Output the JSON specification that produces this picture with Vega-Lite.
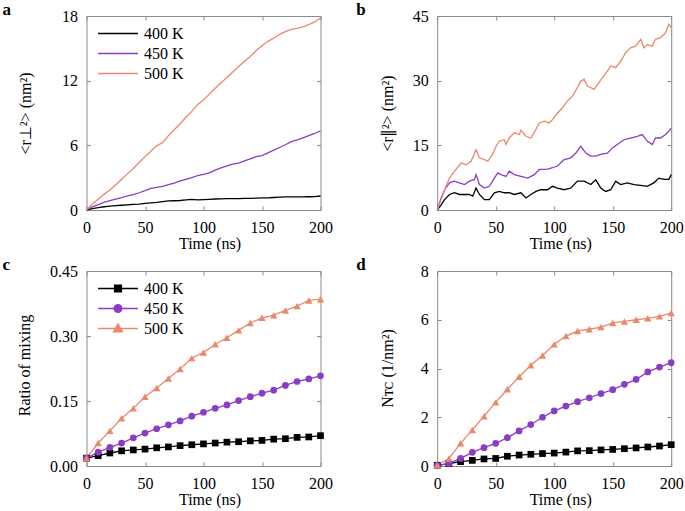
{
"$schema": "https://vega.github.io/schema/vega-lite/v6.json",
"background": "white",
"padding": {"left": 1.5, "top": 0, "right": 4, "bottom": 4},
"config": {
  "font": "Liberation Serif",
  "view": {"stroke": "#8a8a8a", "strokeWidth": 1},
  "axis": {"labelFont": "Liberation Serif", "labelFontSize": 16, "labelColor": "#000", "titleFont": "Liberation Serif", "titleFontSize": 16, "titleFontWeight": "normal", "titleColor": "#000", "grid": false, "domain": false, "tickColor": "#8a8a8a", "tickSize": -4, "labelPadding": 13, "labelFlush": false, "labelOverlap": false},
  "legend": {"labelFont": "Liberation Serif", "labelFontSize": 16, "labelColor": "#000"},
  "title": {"font": "Liberation Serif", "fontSize": 17, "fontWeight": "bold", "anchor": "start", "frame": "group", "color": "#000"}
},
"datasets": {
"a": [
{"T":"400 K","t":0,"v":0},{"T":"400 K","t":5,"v":0.12},{"T":"400 K","t":10,"v":0.22},{"T":"400 K","t":15,"v":0.3},{"T":"400 K","t":20,"v":0.36},{"T":"400 K","t":25,"v":0.4},{"T":"400 K","t":30,"v":0.44},{"T":"400 K","t":35,"v":0.48},{"T":"400 K","t":40,"v":0.52},{"T":"400 K","t":45,"v":0.55},{"T":"400 K","t":50,"v":0.62},{"T":"400 K","t":55,"v":0.66},{"T":"400 K","t":60,"v":0.7},{"T":"400 K","t":65,"v":0.78},{"T":"400 K","t":70,"v":0.84},{"T":"400 K","t":75,"v":0.86},{"T":"400 K","t":80,"v":0.88},{"T":"400 K","t":85,"v":0.93},{"T":"400 K","t":90,"v":0.98},{"T":"400 K","t":95,"v":0.94},{"T":"400 K","t":100,"v":0.96},{"T":"400 K","t":105,"v":0.99},{"T":"400 K","t":110,"v":1.02},{"T":"400 K","t":115,"v":1.04},{"T":"400 K","t":120,"v":1.05},{"T":"400 K","t":125,"v":1.06},{"T":"400 K","t":130,"v":1.06},{"T":"400 K","t":135,"v":1.08},{"T":"400 K","t":140,"v":1.08},{"T":"400 K","t":145,"v":1.1},{"T":"400 K","t":150,"v":1.12},{"T":"400 K","t":155,"v":1.13},{"T":"400 K","t":160,"v":1.16},{"T":"400 K","t":165,"v":1.2},{"T":"400 K","t":170,"v":1.22},{"T":"400 K","t":175,"v":1.21},{"T":"400 K","t":180,"v":1.22},{"T":"400 K","t":185,"v":1.22},{"T":"400 K","t":190,"v":1.23},{"T":"400 K","t":195,"v":1.24},{"T":"400 K","t":200,"v":1.3},
{"T":"450 K","t":0,"v":0},{"T":"450 K","t":5,"v":0.3},{"T":"450 K","t":10,"v":0.5},{"T":"450 K","t":15,"v":0.7},{"T":"450 K","t":20,"v":0.88},{"T":"450 K","t":25,"v":1.02},{"T":"450 K","t":30,"v":1.15},{"T":"450 K","t":35,"v":1.3},{"T":"450 K","t":40,"v":1.42},{"T":"450 K","t":45,"v":1.6},{"T":"450 K","t":50,"v":1.8},{"T":"450 K","t":55,"v":2.0},{"T":"450 K","t":60,"v":2.1},{"T":"450 K","t":65,"v":2.2},{"T":"450 K","t":70,"v":2.35},{"T":"450 K","t":75,"v":2.5},{"T":"450 K","t":80,"v":2.7},{"T":"450 K","t":85,"v":2.85},{"T":"450 K","t":90,"v":3.0},{"T":"450 K","t":95,"v":3.2},{"T":"450 K","t":100,"v":3.3},{"T":"450 K","t":105,"v":3.45},{"T":"450 K","t":110,"v":3.7},{"T":"450 K","t":115,"v":3.9},{"T":"450 K","t":120,"v":4.1},{"T":"450 K","t":125,"v":4.25},{"T":"450 K","t":130,"v":4.35},{"T":"450 K","t":135,"v":4.55},{"T":"450 K","t":140,"v":4.75},{"T":"450 K","t":145,"v":4.95},{"T":"450 K","t":150,"v":5.05},{"T":"450 K","t":155,"v":5.3},{"T":"450 K","t":160,"v":5.55},{"T":"450 K","t":165,"v":5.8},{"T":"450 K","t":170,"v":6.05},{"T":"450 K","t":175,"v":6.35},{"T":"450 K","t":180,"v":6.5},{"T":"450 K","t":185,"v":6.7},{"T":"450 K","t":190,"v":6.9},{"T":"450 K","t":195,"v":7.1},{"T":"450 K","t":200,"v":7.35},
{"T":"500 K","t":0,"v":0},{"T":"500 K","t":5,"v":0.55},{"T":"500 K","t":10,"v":1.0},{"T":"500 K","t":15,"v":1.45},{"T":"500 K","t":20,"v":1.85},{"T":"500 K","t":25,"v":2.35},{"T":"500 K","t":30,"v":2.85},{"T":"500 K","t":35,"v":3.35},{"T":"500 K","t":40,"v":3.85},{"T":"500 K","t":45,"v":4.4},{"T":"500 K","t":50,"v":4.95},{"T":"500 K","t":55,"v":5.45},{"T":"500 K","t":60,"v":5.95},{"T":"500 K","t":65,"v":6.25},{"T":"500 K","t":70,"v":6.9},{"T":"500 K","t":75,"v":7.45},{"T":"500 K","t":80,"v":8.0},{"T":"500 K","t":85,"v":8.6},{"T":"500 K","t":90,"v":9.15},{"T":"500 K","t":95,"v":9.8},{"T":"500 K","t":100,"v":10.2},{"T":"500 K","t":105,"v":10.75},{"T":"500 K","t":110,"v":11.3},{"T":"500 K","t":115,"v":11.8},{"T":"500 K","t":120,"v":12.3},{"T":"500 K","t":125,"v":12.8},{"T":"500 K","t":130,"v":13.3},{"T":"500 K","t":135,"v":13.8},{"T":"500 K","t":140,"v":14.25},{"T":"500 K","t":145,"v":14.8},{"T":"500 K","t":150,"v":15.25},{"T":"500 K","t":155,"v":15.65},{"T":"500 K","t":160,"v":15.95},{"T":"500 K","t":165,"v":16.3},{"T":"500 K","t":170,"v":16.55},{"T":"500 K","t":175,"v":16.75},{"T":"500 K","t":180,"v":16.85},{"T":"500 K","t":185,"v":17.0},{"T":"500 K","t":190,"v":17.2},{"T":"500 K","t":195,"v":17.45},{"T":"500 K","t":200,"v":17.8}
],
"b": [
{"T":"400 K","t":0,"v":0},{"T":"400 K","t":3.4,"v":1.2},{"T":"400 K","t":6.3,"v":2.4},{"T":"400 K","t":10.5,"v":3.6},{"T":"400 K","t":14.8,"v":4.0},{"T":"400 K","t":19,"v":3.6},{"T":"400 K","t":23.3,"v":3.6},{"T":"400 K","t":27.6,"v":3.6},{"T":"400 K","t":30.4,"v":3.2},{"T":"400 K","t":33.2,"v":5.1},{"T":"400 K","t":36.1,"v":3.6},{"T":"400 K","t":40.3,"v":2.4},{"T":"400 K","t":44.6,"v":2.4},{"T":"400 K","t":48.9,"v":4.0},{"T":"400 K","t":53.1,"v":4.3},{"T":"400 K","t":57.4,"v":4.0},{"T":"400 K","t":61.6,"v":4.0},{"T":"400 K","t":65.9,"v":3.6},{"T":"400 K","t":71.6,"v":4.0},{"T":"400 K","t":75.9,"v":2.8},{"T":"400 K","t":80.1,"v":3.6},{"T":"400 K","t":84.4,"v":4.3},{"T":"400 K","t":88.6,"v":4.7},{"T":"400 K","t":94.3,"v":4.7},{"T":"400 K","t":98.6,"v":5.5},{"T":"400 K","t":102.8,"v":5.1},{"T":"400 K","t":108.5,"v":4.7},{"T":"400 K","t":114.2,"v":5.1},{"T":"400 K","t":119.9,"v":6.7},{"T":"400 K","t":125.6,"v":6.7},{"T":"400 K","t":131.3,"v":5.9},{"T":"400 K","t":135.5,"v":7.0},{"T":"400 K","t":139.8,"v":5.1},{"T":"400 K","t":144,"v":4.3},{"T":"400 K","t":148.3,"v":4.7},{"T":"400 K","t":152.6,"v":6.7},{"T":"400 K","t":156.8,"v":5.9},{"T":"400 K","t":162.5,"v":6.3},{"T":"400 K","t":168.2,"v":5.9},{"T":"400 K","t":173.9,"v":5.7},{"T":"400 K","t":179.5,"v":5.5},{"T":"400 K","t":185.2,"v":6.3},{"T":"400 K","t":189.5,"v":7.4},{"T":"400 K","t":193.8,"v":7.1},{"T":"400 K","t":198,"v":7.1},{"T":"400 K","t":200,"v":8.2},
{"T":"450 K","t":0,"v":0},{"T":"450 K","t":3.4,"v":2.8},{"T":"450 K","t":6.3,"v":4.7},{"T":"450 K","t":10.5,"v":6.3},{"T":"450 K","t":14.8,"v":6.7},{"T":"450 K","t":19,"v":6.3},{"T":"450 K","t":23.3,"v":5.9},{"T":"450 K","t":27.6,"v":6.7},{"T":"450 K","t":31.8,"v":7.1},{"T":"450 K","t":33.2,"v":8.2},{"T":"450 K","t":36.1,"v":5.9},{"T":"450 K","t":40.3,"v":5.1},{"T":"450 K","t":44.6,"v":5.5},{"T":"450 K","t":48.9,"v":7.4},{"T":"450 K","t":51.7,"v":8.6},{"T":"450 K","t":54.5,"v":8.2},{"T":"450 K","t":58.8,"v":7.8},{"T":"450 K","t":61.6,"v":9.0},{"T":"450 K","t":65.9,"v":8.2},{"T":"450 K","t":71.6,"v":7.8},{"T":"450 K","t":77.3,"v":7.4},{"T":"450 K","t":83,"v":8.2},{"T":"450 K","t":87.2,"v":9.4},{"T":"450 K","t":94.3,"v":9.5},{"T":"450 K","t":98.6,"v":9.8},{"T":"450 K","t":102.8,"v":10.2},{"T":"450 K","t":108.5,"v":11.7},{"T":"450 K","t":114.2,"v":12.1},{"T":"450 K","t":118.5,"v":13.2},{"T":"450 K","t":122.7,"v":14.8},{"T":"450 K","t":127,"v":13.2},{"T":"450 K","t":131.3,"v":12.5},{"T":"450 K","t":135.5,"v":12.5},{"T":"450 K","t":139.8,"v":12.9},{"T":"450 K","t":145.5,"v":13.2},{"T":"450 K","t":149.7,"v":14.4},{"T":"450 K","t":154,"v":15.2},{"T":"450 K","t":159.7,"v":16.3},{"T":"450 K","t":165.3,"v":16.7},{"T":"450 K","t":171,"v":17.1},{"T":"450 K","t":175.3,"v":17.5},{"T":"450 K","t":179.5,"v":16.0},{"T":"450 K","t":183.8,"v":15.2},{"T":"450 K","t":186.6,"v":16.7},{"T":"450 K","t":190.9,"v":16.7},{"T":"450 K","t":195.2,"v":17.5},{"T":"450 K","t":198,"v":18.3},{"T":"450 K","t":200,"v":19.0},
{"T":"500 K","t":0,"v":0},{"T":"500 K","t":3.4,"v":2.4},{"T":"500 K","t":6.3,"v":4.7},{"T":"500 K","t":10.5,"v":7.4},{"T":"500 K","t":14.8,"v":9.0},{"T":"500 K","t":20.5,"v":10.9},{"T":"500 K","t":24.7,"v":10.5},{"T":"500 K","t":29,"v":11.3},{"T":"500 K","t":33.2,"v":14.0},{"T":"500 K","t":36.1,"v":12.1},{"T":"500 K","t":40.3,"v":11.7},{"T":"500 K","t":43.2,"v":11.3},{"T":"500 K","t":47.4,"v":12.9},{"T":"500 K","t":50.3,"v":14.8},{"T":"500 K","t":53.1,"v":16.0},{"T":"500 K","t":57.4,"v":16.3},{"T":"500 K","t":58.8,"v":15.2},{"T":"500 K","t":61.6,"v":16.7},{"T":"500 K","t":65.9,"v":17.9},{"T":"500 K","t":70.2,"v":17.5},{"T":"500 K","t":71.6,"v":18.5},{"T":"500 K","t":75.9,"v":17.1},{"T":"500 K","t":80.1,"v":16.7},{"T":"500 K","t":84.4,"v":18.7},{"T":"500 K","t":87.2,"v":20.2},{"T":"500 K","t":91.5,"v":20.6},{"T":"500 K","t":95.7,"v":20.2},{"T":"500 K","t":98.6,"v":21.0},{"T":"500 K","t":102.8,"v":22.5},{"T":"500 K","t":107.1,"v":23.7},{"T":"500 K","t":111.4,"v":25.3},{"T":"500 K","t":115.6,"v":26.4},{"T":"500 K","t":119.9,"v":28.4},{"T":"500 K","t":122.7,"v":29.9},{"T":"500 K","t":125.6,"v":30.3},{"T":"500 K","t":128.4,"v":28.7},{"T":"500 K","t":131.3,"v":28.4},{"T":"500 K","t":134.1,"v":28.0},{"T":"500 K","t":137,"v":29.1},{"T":"500 K","t":141.2,"v":30.7},{"T":"500 K","t":145.5,"v":32.2},{"T":"500 K","t":148.3,"v":33.4},{"T":"500 K","t":152.6,"v":33.0},{"T":"500 K","t":156.8,"v":34.5},{"T":"500 K","t":161.1,"v":36.5},{"T":"500 K","t":165.3,"v":37.6},{"T":"500 K","t":169.6,"v":38.0},{"T":"500 K","t":173.9,"v":39.6},{"T":"500 K","t":176.7,"v":37.6},{"T":"500 K","t":179.5,"v":38.4},{"T":"500 K","t":183.8,"v":38.0},{"T":"500 K","t":186.6,"v":39.6},{"T":"500 K","t":190.9,"v":40.0},{"T":"500 K","t":195.2,"v":41.1},{"T":"500 K","t":198,"v":43.1},{"T":"500 K","t":200,"v":42.3}
],
"c": [
{"T":"400 K","t":0,"v":0.018},{"T":"400 K","t":10,"v":0.024},{"T":"400 K","t":20,"v":0.030},{"T":"400 K","t":30,"v":0.035},{"T":"400 K","t":40,"v":0.037},{"T":"400 K","t":50,"v":0.039},{"T":"400 K","t":60,"v":0.042},{"T":"400 K","t":70,"v":0.044},{"T":"400 K","t":80,"v":0.047},{"T":"400 K","t":90,"v":0.049},{"T":"400 K","t":100,"v":0.051},{"T":"400 K","t":110,"v":0.053},{"T":"400 K","t":120,"v":0.055},{"T":"400 K","t":130,"v":0.056},{"T":"400 K","t":140,"v":0.058},{"T":"400 K","t":150,"v":0.059},{"T":"400 K","t":160,"v":0.062},{"T":"400 K","t":170,"v":0.063},{"T":"400 K","t":180,"v":0.066},{"T":"400 K","t":190,"v":0.067},{"T":"400 K","t":200,"v":0.070},
{"T":"450 K","t":0,"v":0.018},{"T":"450 K","t":10,"v":0.032},{"T":"450 K","t":20,"v":0.043},{"T":"450 K","t":30,"v":0.053},{"T":"450 K","t":40,"v":0.065},{"T":"450 K","t":50,"v":0.076},{"T":"450 K","t":60,"v":0.086},{"T":"450 K","t":70,"v":0.095},{"T":"450 K","t":80,"v":0.104},{"T":"450 K","t":90,"v":0.115},{"T":"450 K","t":100,"v":0.124},{"T":"450 K","t":110,"v":0.133},{"T":"450 K","t":120,"v":0.141},{"T":"450 K","t":130,"v":0.151},{"T":"450 K","t":140,"v":0.160},{"T":"450 K","t":150,"v":0.168},{"T":"450 K","t":160,"v":0.175},{"T":"450 K","t":170,"v":0.186},{"T":"450 K","t":180,"v":0.195},{"T":"450 K","t":190,"v":0.201},{"T":"450 K","t":200,"v":0.208},
{"T":"500 K","t":0,"v":0.018},{"T":"500 K","t":10,"v":0.053},{"T":"500 K","t":20,"v":0.081},{"T":"500 K","t":30,"v":0.110},{"T":"500 K","t":40,"v":0.133},{"T":"500 K","t":50,"v":0.160},{"T":"500 K","t":60,"v":0.180},{"T":"500 K","t":70,"v":0.202},{"T":"500 K","t":80,"v":0.224},{"T":"500 K","t":90,"v":0.249},{"T":"500 K","t":100,"v":0.262},{"T":"500 K","t":110,"v":0.281},{"T":"500 K","t":120,"v":0.296},{"T":"500 K","t":130,"v":0.313},{"T":"500 K","t":140,"v":0.330},{"T":"500 K","t":150,"v":0.342},{"T":"500 K","t":160,"v":0.348},{"T":"500 K","t":170,"v":0.359},{"T":"500 K","t":180,"v":0.369},{"T":"500 K","t":190,"v":0.382},{"T":"500 K","t":200,"v":0.385}
],
"d": [
{"T":"400 K","t":0,"v":0.03},{"T":"400 K","t":10,"v":0.10},{"T":"400 K","t":20,"v":0.18},{"T":"400 K","t":30,"v":0.23},{"T":"400 K","t":40,"v":0.29},{"T":"400 K","t":50,"v":0.31},{"T":"400 K","t":60,"v":0.40},{"T":"400 K","t":70,"v":0.45},{"T":"400 K","t":80,"v":0.48},{"T":"400 K","t":90,"v":0.51},{"T":"400 K","t":100,"v":0.53},{"T":"400 K","t":110,"v":0.57},{"T":"400 K","t":120,"v":0.62},{"T":"400 K","t":130,"v":0.63},{"T":"400 K","t":140,"v":0.66},{"T":"400 K","t":150,"v":0.68},{"T":"400 K","t":160,"v":0.71},{"T":"400 K","t":170,"v":0.74},{"T":"400 K","t":180,"v":0.78},{"T":"400 K","t":190,"v":0.82},{"T":"400 K","t":200,"v":0.875},
{"T":"450 K","t":0,"v":0.03},{"T":"450 K","t":10,"v":0.10},{"T":"450 K","t":20,"v":0.31},{"T":"450 K","t":30,"v":0.56},{"T":"450 K","t":40,"v":0.75},{"T":"450 K","t":50,"v":0.93},{"T":"450 K","t":60,"v":1.16},{"T":"450 K","t":70,"v":1.44},{"T":"450 K","t":80,"v":1.70},{"T":"450 K","t":90,"v":2.00},{"T":"450 K","t":100,"v":2.26},{"T":"450 K","t":110,"v":2.46},{"T":"450 K","t":120,"v":2.64},{"T":"450 K","t":130,"v":2.80},{"T":"450 K","t":140,"v":2.97},{"T":"450 K","t":150,"v":3.13},{"T":"450 K","t":160,"v":3.35},{"T":"450 K","t":170,"v":3.55},{"T":"450 K","t":180,"v":3.86},{"T":"450 K","t":190,"v":4.06},{"T":"450 K","t":200,"v":4.24},
{"T":"500 K","t":0,"v":0.03},{"T":"500 K","t":10,"v":0.31},{"T":"500 K","t":20,"v":0.93},{"T":"500 K","t":30,"v":1.48},{"T":"500 K","t":40,"v":2.04},{"T":"500 K","t":50,"v":2.61},{"T":"500 K","t":60,"v":3.15},{"T":"500 K","t":70,"v":3.66},{"T":"500 K","t":80,"v":4.13},{"T":"500 K","t":90,"v":4.53},{"T":"500 K","t":100,"v":4.99},{"T":"500 K","t":110,"v":5.33},{"T":"500 K","t":120,"v":5.54},{"T":"500 K","t":130,"v":5.61},{"T":"500 K","t":140,"v":5.70},{"T":"500 K","t":150,"v":5.87},{"T":"500 K","t":160,"v":5.93},{"T":"500 K","t":170,"v":6.00},{"T":"500 K","t":180,"v":6.06},{"T":"500 K","t":190,"v":6.14},{"T":"500 K","t":200,"v":6.28}
]
},
"columns": 2,
"spacing": {"row": 61, "column": 116.7},
"bounds": "flush",
"resolve": {"scale": {"color": "independent", "shape": "independent"}, "legend": {"color": "independent", "shape": "independent"}},
"concat": [
  {"width": 234, "height": 194, "data": {"name": "a"},
   "title": {"text": "a", "dx": -84, "offset": -11},
   "resolve": {"axis": {"x": "independent", "y": "independent"}},
   "layer": [
    {"mark": {"type": "line", "strokeWidth": 1.3},
     "encoding": {
      "x": {"field": "t", "type": "quantitative", "scale": {"domain": [0, 200], "nice": false}, "axis": {"values": [0, 50, 100, 150, 200], "title": "Time (ns)", "titleX": 123, "titleY": 25, "titleBaseline": "top"}},
      "y": {"field": "v", "type": "quantitative", "scale": {"domain": [0, 18], "nice": false}, "axis": {"values": [0, 6, 12, 18], "title": "<r⊥²> (nm²)", "titleX": -56, "titleY": 97, "titleBaseline": "alphabetic"}},
      "color": {"field": "T", "type": "nominal", "scale": {"domain": ["400 K", "450 K", "500 K"], "range": ["#000000", "#8b3cc6", "#e9896a"]},
        "legend": {"orient": "none", "legendX": 20, "legendY": 6, "title": null, "symbolType": "M-1.9,0H1.9", "symbolSize": 441, "symbolStrokeWidth": 1.5, "labelOffset": 14.5, "rowPadding": 0}}
     }},
    {"transform": [{"filter": "false"}], "mark": {"type": "line"},
     "encoding": {
      "x": {"field": "t", "type": "quantitative", "axis": {"orient": "top", "values": [0, 50, 100, 150, 200], "labels": false, "title": null}},
      "y": {"field": "v", "type": "quantitative", "axis": {"orient": "right", "values": [0, 6, 12, 18], "labels": false, "title": null}}
     }}
   ]},
  {"width": 234, "height": 194, "data": {"name": "b"},
   "title": {"text": "b", "dx": -81, "offset": -11},
   "resolve": {"axis": {"x": "independent", "y": "independent"}},
   "layer": [
    {"mark": {"type": "line", "strokeWidth": 1.3},
     "encoding": {
      "x": {"field": "t", "type": "quantitative", "scale": {"domain": [0, 200], "nice": false}, "axis": {"values": [0, 50, 100, 150, 200], "title": "Time (ns)", "titleX": 123, "titleY": 25, "titleBaseline": "top"}},
      "y": {"field": "v", "type": "quantitative", "scale": {"domain": [0, 45], "nice": false}, "axis": {"values": [0, 15, 30, 45], "title": "<r∥²> (nm²)", "titleX": -44.5, "titleY": 97, "titleBaseline": "alphabetic"}},
      "color": {"field": "T", "type": "nominal", "scale": {"domain": ["400 K", "450 K", "500 K"], "range": ["#000000", "#8b3cc6", "#e9896a"]}, "legend": null}
     }},
    {"transform": [{"filter": "false"}], "mark": {"type": "line"},
     "encoding": {
      "x": {"field": "t", "type": "quantitative", "axis": {"orient": "top", "values": [0, 50, 100, 150, 200], "labels": false, "title": null}},
      "y": {"field": "v", "type": "quantitative", "axis": {"orient": "right", "values": [0, 15, 30, 45], "labels": false, "title": null}}
     }}
   ]},
  {"width": 234, "height": 195, "data": {"name": "c"},
   "title": {"text": "c", "dx": -84, "offset": -11},
   "resolve": {"axis": {"x": "independent", "y": "independent"}},
   "layer": [
    {"mark": {"type": "line", "strokeWidth": 1.3},
     "encoding": {
      "x": {"field": "t", "type": "quantitative", "scale": {"domain": [0, 200], "nice": false}, "axis": {"values": [0, 50, 100, 150, 200], "title": "Time (ns)", "titleX": 123, "titleY": 25, "titleBaseline": "top"}},
      "y": {"field": "v", "type": "quantitative", "scale": {"domain": [0, 0.45], "nice": false}, "axis": {"values": [0, 0.15, 0.3, 0.45], "format": ".2f", "title": "Ratio of mixing", "titleX": -57, "titleY": 94, "titleBaseline": "alphabetic"}},
      "color": {"field": "T", "type": "nominal", "scale": {"domain": ["400 K", "450 K", "500 K"], "range": ["#000000", "#8b3cc6", "#e9896a"]},
        "legend": {"orient": "none", "legendX": 20, "legendY": 6, "title": null, "symbolSize": 441, "symbolStrokeWidth": 1.5, "labelOffset": 14.5, "rowPadding": 0}}
     }},
    {"transform": [{"filter": "datum.T === '400 K'"}], "mark": {"type": "point", "filled": true, "opacity": 1, "size": 45, "shape": "square", "color": "#000000"},
     "encoding": {"x": {"field": "t", "type": "quantitative", "axis": null}, "y": {"field": "v", "type": "quantitative", "axis": null}}},
    {"transform": [{"filter": "datum.T === '450 K'"}], "mark": {"type": "point", "filled": true, "opacity": 1, "size": 45, "shape": "circle", "color": "#8b3cc6"},
     "encoding": {"x": {"field": "t", "type": "quantitative", "axis": null}, "y": {"field": "v", "type": "quantitative", "axis": null}}},
    {"transform": [{"filter": "datum.T === '500 K'"}], "mark": {"type": "point", "filled": true, "opacity": 1, "size": 55, "shape": "triangle-up", "color": "#e9896a"},
     "encoding": {"x": {"field": "t", "type": "quantitative", "axis": null}, "y": {"field": "v", "type": "quantitative", "axis": null}}},
    {"transform": [{"filter": "false"}], "mark": {"type": "point", "filled": true, "opacity": 1},
     "encoding": {
      "x": {"field": "t", "type": "quantitative", "axis": {"orient": "top", "values": [0, 50, 100, 150, 200], "labels": false, "title": null}},
      "y": {"field": "v", "type": "quantitative", "axis": {"orient": "right", "values": [0, 0.15, 0.3, 0.45], "labels": false, "title": null}},
      "color": {"field": "T", "type": "nominal",
        "legend": {"orient": "none", "legendX": 20, "legendY": 6, "title": null, "symbolSize": 441, "symbolStrokeWidth": 1.5, "labelOffset": 14.5, "rowPadding": 0}},
      "shape": {"field": "T", "type": "nominal", "scale": {"domain": ["400 K", "450 K", "500 K"], "range": ["M-1.9,0H1.9M-0.32,-0.32H0.32V0.32H-0.32Z", "M-1.9,0H1.9M0.36,0A0.36,0.36,0,1,1,-0.36,0A0.36,0.36,0,1,1,0.36,0Z", "M-1.9,0H1.9M0,-0.42L0.42,0.3H-0.42Z"]},
        "legend": {"orient": "none", "legendX": 20, "legendY": 6, "title": null, "symbolSize": 441, "symbolStrokeWidth": 1.5, "labelOffset": 14.5, "rowPadding": 0}}
     }}
   ]},
  {"width": 234, "height": 195, "data": {"name": "d"},
   "title": {"text": "d", "dx": -81, "offset": -11},
   "resolve": {"axis": {"x": "independent", "y": "independent"}},
   "layer": [
    {"mark": {"type": "line", "strokeWidth": 1.3},
     "encoding": {
      "x": {"field": "t", "type": "quantitative", "scale": {"domain": [0, 200], "nice": false}, "axis": {"values": [0, 50, 100, 150, 200], "title": "Time (ns)", "titleX": 123, "titleY": 25, "titleBaseline": "top"}},
      "y": {"field": "v", "type": "quantitative", "scale": {"domain": [0, 8], "nice": false}, "axis": {"values": [0, 2, 4, 6, 8], "title": "Nᴛᴄ (1/nm²)", "titleX": -44.5, "titleY": 97, "titleBaseline": "alphabetic"}},
      "color": {"field": "T", "type": "nominal", "scale": {"domain": ["400 K", "450 K", "500 K"], "range": ["#000000", "#8b3cc6", "#e9896a"]}, "legend": null}
     }},
    {"transform": [{"filter": "datum.T === '400 K'"}], "mark": {"type": "point", "filled": true, "opacity": 1, "size": 45, "shape": "square", "color": "#000000"},
     "encoding": {"x": {"field": "t", "type": "quantitative", "axis": null}, "y": {"field": "v", "type": "quantitative", "axis": null}}},
    {"transform": [{"filter": "datum.T === '450 K'"}], "mark": {"type": "point", "filled": true, "opacity": 1, "size": 45, "shape": "circle", "color": "#8b3cc6"},
     "encoding": {"x": {"field": "t", "type": "quantitative", "axis": null}, "y": {"field": "v", "type": "quantitative", "axis": null}}},
    {"transform": [{"filter": "datum.T === '500 K'"}], "mark": {"type": "point", "filled": true, "opacity": 1, "size": 55, "shape": "triangle-up", "color": "#e9896a"},
     "encoding": {"x": {"field": "t", "type": "quantitative", "axis": null}, "y": {"field": "v", "type": "quantitative", "axis": null}}},
    {"transform": [{"filter": "false"}], "mark": {"type": "line"},
     "encoding": {
      "x": {"field": "t", "type": "quantitative", "axis": {"orient": "top", "values": [0, 50, 100, 150, 200], "labels": false, "title": null}},
      "y": {"field": "v", "type": "quantitative", "axis": {"orient": "right", "values": [0, 2, 4, 6, 8], "labels": false, "title": null}}
     }}
   ]}
]
}
